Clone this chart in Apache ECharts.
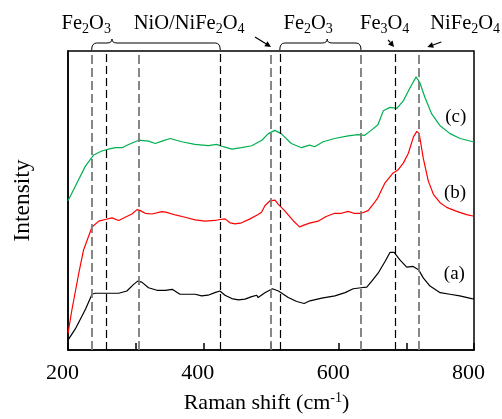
<!DOCTYPE html>
<html>
<head>
<meta charset="utf-8">
<script src="https://cdn.jsdelivr.net/npm/echarts@6/dist/echarts.min.js"></script>
<style>
  html, body { margin: 0; padding: 0; background: #fff; }
  #chart { width: 502px; height: 419px; }
</style>
</head>
<body>
<div id="chart"></div>
<script>
// Raman spectra of three samples, stacked with vertical offsets (arbitrary units)
const shiftA = [200, 211, 226, 235.5, 240, 255, 275, 287, 297, 303, 309, 319, 331.5, 344, 354, 358, 365.5, 378, 388, 397.5, 407, 417, 424.5, 432, 442, 452, 461.5, 471.5, 479, 481, 491, 502, 511, 525.5, 538, 549, 557.5, 575, 594.5, 609.5, 621.5, 633, 641.5, 649, 658.5, 668.5, 676, 682, 690.5, 700.5, 710, 718, 725, 735, 750, 764.5, 779, 796.5, 800];
const intensityA = [10, 21.7, 41.7, 56.7, 57.7, 57.7, 57.7, 60, 66.7, 70, 69, 63.3, 60.7, 60.7, 61.7, 60, 56.7, 56.7, 56.7, 55, 55.7, 58.3, 60, 55.7, 52.3, 51, 51.7, 54.3, 55.7, 53.3, 58.3, 62.3, 60, 53.3, 49.3, 47.3, 50, 52.7, 55, 58.3, 62.3, 63.3, 64, 70, 78.3, 90, 99.3, 99.3, 91.7, 84.3, 85, 81.7, 73.3, 65, 58.3, 56.7, 55, 52.3, 52];

const shiftB = [200, 206, 216, 223, 235.5, 245.5, 255, 265, 275, 284.5, 294.5, 302, 307, 314, 324, 339, 346, 358.5, 373, 388, 402.5, 417, 424.5, 432, 439.5, 447, 456.5, 469, 481, 486, 491, 498.5, 506, 510.5, 520, 532.5, 542.5, 547.5, 557, 569.5, 581.5, 594, 604, 614, 622.5, 633.5, 643.5, 653, 658, 668.5, 680.5, 688, 695.5, 703, 710.5, 715.5, 719, 725, 732.5, 740, 749.5, 759.5, 774.5, 789, 800];
const intensityB = [17, 41.7, 78.3, 101.7, 125, 131, 132.7, 134.3, 131.7, 135, 138.3, 142.7, 141.7, 139, 138.3, 140.7, 140, 137.3, 135, 132.3, 131, 131.7, 132.7, 133.3, 129.3, 128.3, 129.3, 133.3, 137.7, 140, 146.7, 151.7, 152.3, 148.3, 141.7, 131.7, 125, 126.7, 129, 131, 135.7, 139, 139, 141, 139, 139, 141.7, 150, 155, 170, 180, 183.3, 190, 200, 216.7, 222.3, 220, 195, 171.7, 158.3, 150, 145, 141, 137.7, 136];

const shiftC = [200, 211, 225.5, 238, 250, 260, 270, 280, 289.5, 304.5, 319, 329, 339, 351, 368, 387.5, 407.5, 419.5, 429.5, 442, 456.5, 471.5, 486.5, 496, 505.5, 515, 530, 545, 557, 564.5, 577, 594, 614, 628.5, 638.5, 648, 658, 666, 676, 686, 695.5, 705.5, 714.5, 720, 727.5, 737.5, 749.5, 764.5, 779.5, 800];
const intensityC = [151.7, 166.7, 186.7, 198.3, 202.3, 204.3, 205.7, 205.7, 209, 213.3, 212.3, 210, 212.3, 215, 211.7, 209, 207.7, 209, 206.7, 204.3, 205.7, 207.7, 213.3, 220, 223.3, 220, 210, 205.7, 208.3, 206.7, 211.7, 215, 217.7, 219, 218.3, 223.3, 229, 243.3, 246.7, 245.7, 253.3, 266.7, 277.7, 271.7, 256.7, 240, 228.3, 220, 215, 211.5];

const sampleNames = ['(a)', '(b)', '(c)'];
const sampleLabelAt = [[771, 77], [772, 160], [773, 237]];

// Reference band positions (cm-1)
const greyBands = [235, 305, 500, 633, 719];
const blackBands = [257, 425, 513, 684];

// Phase annotations above the plot
const phaseLabels = ['Fe{s|2}O{s|3}', 'NiO/NiFe{s|2}O{s|4}', 'Fe{s|2}O{s|3}', 'Fe{s|3}O{s|4}', 'NiFe{s|2}O{s|4}'];
const phaseLabelShift = [227, 379, 555, 668, 787];
const braceRanges = [[235, 425, 265], [513, 633, 583]];
const arrowTips = [500, 682, 731];
const arrowTails = [[-16, -10], [-6, -7], [14, -5]];

const xTickLabels = [200, 400, 600, 800];

const serif = '"Liberation Serif", "Times New Roman", serif';
const pairs = (xs, ys) => xs.map((x, i) => [x, ys[i]]);

const chart = echarts.init(document.getElementById('chart'), null, { renderer: 'canvas' });

const bandLines = [
  ...greyBands.map(v => ({ xAxis: v, lineStyle: { color: '#7a7a7a', width: 1.8, type: [9, 4] } })),
  ...blackBands.map(v => ({ xAxis: v, lineStyle: { color: '#000', width: 1.2, type: [8, 4] } }))
];

chart.setOption({
  animation: false,
  backgroundColor: '#fff',
  grid: { left: 68, right: 28, top: 51, bottom: 64, show: true, borderColor: '#000', borderWidth: 1.5 },
  xAxis: {
    type: 'value', min: 200, max: 800, interval: 100,
    axisLine: { lineStyle: { color: '#000', width: 1.5 } },
    axisTick: { inside: true, length: 7, lineStyle: { color: '#000', width: 1.5 } },
    axisLabel: {
      formatter: v => xTickLabels.includes(v) ? String(v) : '',
      fontFamily: serif, fontSize: 22, color: '#000', margin: 12, padding: [0, 11, 0, 0]
    },
    splitLine: { show: false },
    name: 'Raman shift (cm{sup|-1})',
    nameLocation: 'middle', nameGap: 41,
    nameTextStyle: {
      fontFamily: serif, fontSize: 22, color: '#000', padding: [0, 9, 0, 0],
      rich: { sup: { fontFamily: serif, fontSize: 14, color: '#000', padding: [0, 0, 10, 0] } }
    }
  },
  yAxis: {
    type: 'value', min: 0, max: 304,
    axisLine: { show: true, lineStyle: { color: '#000', width: 1.5 } },
    axisTick: { show: false }, axisLabel: { show: false }, splitLine: { show: false },
    name: 'Intensity', nameLocation: 'middle', nameGap: 33, nameRotate: 90,
    nameTextStyle: { fontFamily: serif, fontSize: 23.5, color: '#000' }
  },
  series: [
    {
      type: 'line', data: [], silent: true, z: 1,
      markLine: { silent: true, symbol: 'none', label: { show: false }, data: bandLines, animation: false }
    },
    { name: '(a)', type: 'line', data: pairs(shiftA, intensityA), showSymbol: false, z: 3,
      lineStyle: { color: '#000', width: 1.2 } },
    { name: '(b)', type: 'line', data: pairs(shiftB, intensityB), showSymbol: false, z: 3,
      lineStyle: { color: '#ff0000', width: 1.2 } },
    { name: '(c)', type: 'line', data: pairs(shiftC, intensityC), showSymbol: false, z: 3,
      lineStyle: { color: '#00b050', width: 1.2 } }
  ]
});

// Annotations placed through the axis scales
const toPx = (x, y) => chart.convertToPixel({ xAxisIndex: 0, yAxisIndex: 0 }, [x, y]);
const topY = toPx(200, 304)[1];
const subStyle = { fontFamily: serif, fontSize: 14, fill: '#000', padding: [10, 0, 0, 0] };
const graphics = [];
const thin = { stroke: '#000', lineWidth: 1, fill: null };

phaseLabels.forEach((t, i) => {
  const [x] = toPx(phaseLabelShift[i], 0);
  graphics.push({
    type: 'text', x: x, y: topY - 27,
    style: { text: t, fontFamily: serif, fontSize: 20.5, fill: '#000', align: 'center', verticalAlign: 'middle',
      rich: { s: subStyle } }
  });
});

// Curly braces: two quarter-curves at each end, straight runs, and an upward tip
braceRanges.forEach(([a, b, tip]) => {
  const x1 = toPx(a, 0)[0], x2 = toPx(b, 0)[0], xt = toPx(tip, 0)[0];
  const y0 = topY - 1, yh = topY - 8, yt = topY - 12, r = 5;
  graphics.push({ type: 'bezierCurve', shape: { x1: x1, y1: y0, cpx1: x1, cpy1: yh, x2: x1 + r, y2: yh }, style: thin });
  graphics.push({ type: 'line', shape: { x1: x1 + r, y1: yh, x2: xt - r, y2: yh }, style: thin });
  graphics.push({ type: 'bezierCurve', shape: { x1: xt - r, y1: yh, cpx1: xt, cpy1: yh, x2: xt, y2: yt }, style: thin });
  graphics.push({ type: 'bezierCurve', shape: { x1: xt, y1: yt, cpx1: xt, cpy1: yh, x2: xt + r, y2: yh }, style: thin });
  graphics.push({ type: 'line', shape: { x1: xt + r, y1: yh, x2: x2 - r, y2: yh }, style: thin });
  graphics.push({ type: 'bezierCurve', shape: { x1: x2 - r, y1: yh, cpx1: x2, cpy1: yh, x2: x2, y2: y0 }, style: thin });
});

arrowTips.forEach((w, i) => {
  const tx = toPx(w, 0)[0], ty = topY - 4;
  const [dx, dy] = arrowTails[i];
  const len = Math.hypot(dx, dy), ux = -dx / len, uy = -dy / len;
  const hx = tx - ux * 6, hy = ty - uy * 6;
  graphics.push({ type: 'line', shape: { x1: tx + dx, y1: ty + dy, x2: hx, y2: hy }, style: { stroke: '#000', lineWidth: 1.2 } });
  graphics.push({ type: 'polygon', shape: { points: [[tx, ty], [hx - uy * 3, hy + ux * 3], [hx + uy * 3, hy - ux * 3]] }, style: { fill: '#000' } });
});

sampleNames.forEach((t, i) => {
  const [x, y] = toPx(sampleLabelAt[i][0], sampleLabelAt[i][1]);
  graphics.push({ type: 'text', x: x, y: y,
    style: { text: t, fontFamily: serif, fontSize: 19, fill: '#000', align: 'center', verticalAlign: 'middle' } });
});

chart.setOption({ graphic: graphics });
</script>
</body>
</html>
